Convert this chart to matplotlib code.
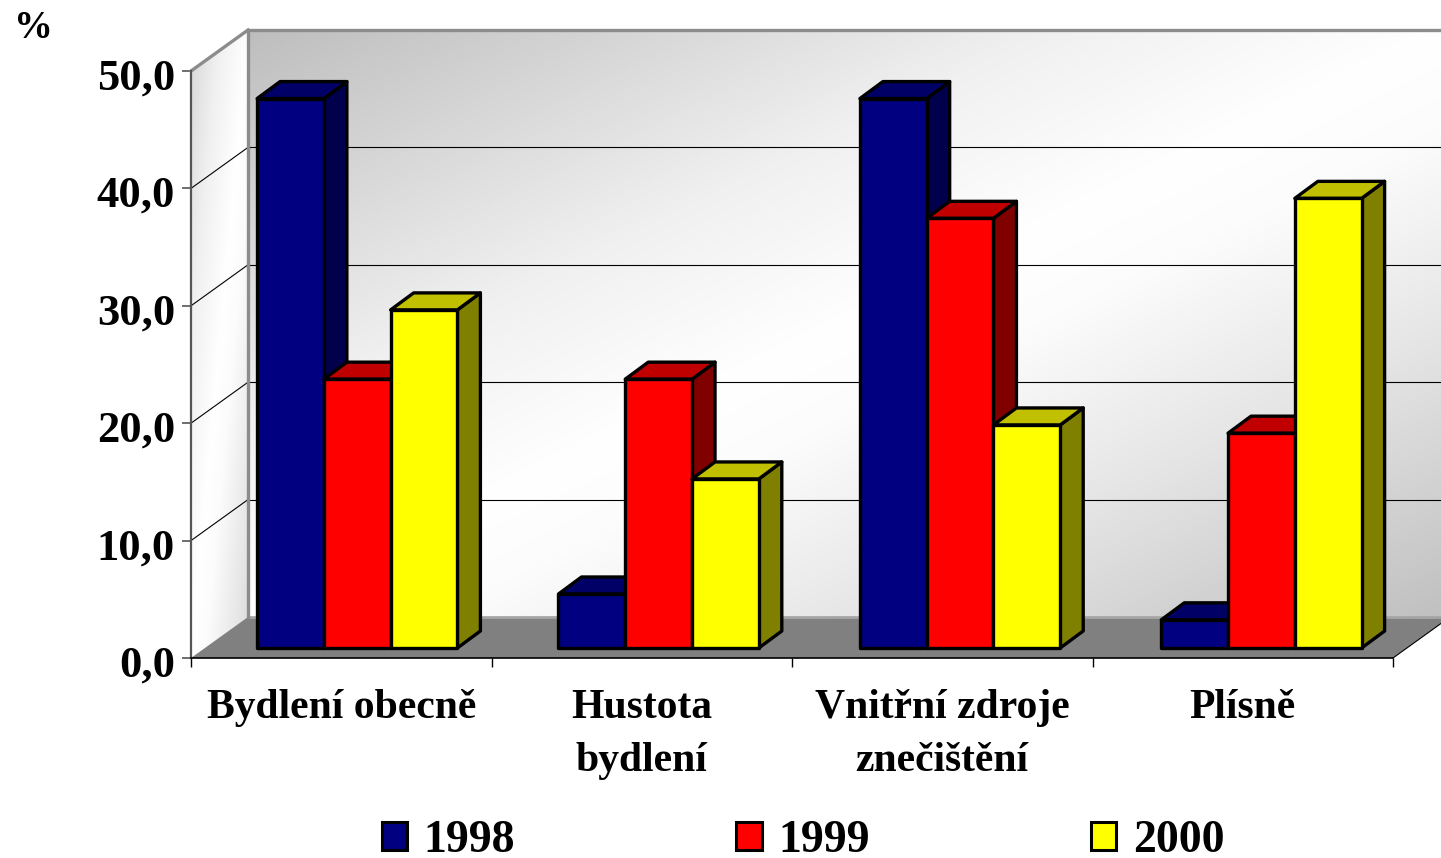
import numpy as np
import matplotlib
matplotlib.use('Agg')
import matplotlib.pyplot as plt
from matplotlib.colors import LinearSegmentedColormap
from matplotlib.patches import Polygon, Patch
from matplotlib.transforms import Affine2D, IdentityTransform

plt.rcParams['font.family'] = ['Liberation Serif', 'DejaVu Serif']
plt.rcParams['font.weight'] = 'bold'

# Data
categories = ['Bydlení obecně', 'Hustota\nbydlení', 'Vnitřní zdroje\nznečištění', 'Plísně']
years = ['1998', '1999', '2000']
v1998 = [46.8, 4.6, 46.8, 2.4]
v1999 = [22.9, 22.9, 36.6, 18.3]
v2000 = [28.8, 14.4, 19.0, 38.3]
yticks = [0, 10, 20, 30, 40, 50]

series = [v1998, v1999, v2000]
front_col = ['#000080', '#ff0000', '#ffff00']
top_col = ['#000066', '#c00000', '#c0c000']
side_col = ['#00004d', '#800000', '#808000']

W, H = 1441, 858
fig = plt.figure(figsize=(W / 100, H / 100), dpi=100, facecolor='white')
ax = fig.add_axes([191 / W, 1 - 658 / H, (1393 - 191) / W, (658 - 71) / H])
ax.set_xlim(0, 4)
ax.set_ylim(0, 50)
ax.patch.set_visible(False)

# depth of the whole chart and of one bar, in pixels
wall_dx, wall_dy = 57, 41
bar_off = (16, 10)
bar_dx, bar_dy = 23, 17


def to_px(x, y, dx=0, dy=0):
    p = ax.transData.transform((x, y))
    return (p[0] + dx, p[1] + dy)


def poly(pts, z, **kw):
    p = Polygon(pts, closed=True, transform=IdentityTransform(), zorder=z, clip_on=False, **kw)
    ax.add_patch(p)
    return p


# back wall gradient, grey corners with a white diagonal
wall_tr = Affine2D().translate(wall_dx, wall_dy)
gx, gy = np.meshgrid(np.linspace(0, 1, 300), np.linspace(0, 1, 200))
wall_cmap = LinearSegmentedColormap.from_list(
    'wall', [(0, '#bebebe'), (0.33, '#f0f0f0'), (0.5, '#ffffff'), (0.58, '#fcfcfc'),
             (0.75, '#e6e6e6'), (1, '#c0c0c0')])
ax.imshow(gx + gy, extent=(0, 4, 0, 50), origin='upper', aspect='auto', cmap=wall_cmap,
          vmin=0, vmax=2, transform=ax.transData + wall_tr, zorder=1, clip_on=False)

# left wall uses the same gradient, a bit softer
side_im = ax.imshow(gx + gy, extent=(0, 0.19, 0, 53.6), origin='upper', aspect='auto',
                    cmap=wall_cmap, vmin=-0.5, vmax=2.5, zorder=1)
side_pts = [to_px(0, 0), to_px(0, 50), to_px(0, 50, wall_dx, wall_dy), to_px(0, 0, wall_dx, wall_dy)]
side_im.set_clip_box(fig.bbox)
side_im.set_clip_path(Polygon(side_pts, closed=True, transform=IdentityTransform()))
ax.set_xlim(0, 4)
ax.set_ylim(0, 50)

# floor
poly([to_px(0, 0), to_px(4, 0), to_px(4, 0, wall_dx, wall_dy), to_px(0, 0, wall_dx, wall_dy)], 2,
     facecolor='#808080', edgecolor='none')

# wall border
ax.plot([0, 0, 4], [0, 50, 50], color='#8c8c8c', lw=2.4, transform=ax.transData + wall_tr,
        zorder=3, clip_on=False)
ax.plot([0, 4], [0, 0], color='#a6a6a6', lw=2.0, transform=ax.transData + wall_tr, zorder=2.5, clip_on=False)
ax.plot(*zip(to_px(0, 50), to_px(0, 50, wall_dx, wall_dy)), color='#8c8c8c', lw=2.4,
        transform=IdentityTransform(), zorder=3, clip_on=False)

# gridlines
for t in yticks[1:-1]:
    ax.plot([0, 4], [t, t], color='black', lw=0.8, transform=ax.transData + wall_tr, zorder=2, clip_on=False)
    ax.plot(*zip(to_px(0, t), to_px(0, t, wall_dx, wall_dy)), color='black', lw=0.8,
            transform=IdentityTransform(), zorder=2, clip_on=False)
ax.plot(*zip(to_px(4, 0), to_px(4, 0, wall_dx, wall_dy)), color='black', lw=0.8,
        transform=IdentityTransform(), zorder=2.6, clip_on=False)

# bars
bw = 0.2222
start = (1 - 3 * bw) / 2
group_step = 1.003
ox, oy = bar_off
z = 5
for i in range(len(categories)):
    for s in range(3):
        left = i * group_step + start + s * bw
        right = left + bw
        v = series[s][i]
        style = dict(edgecolor='black', lw=2.4, joinstyle='round')
        poly([to_px(right, 0, ox, oy), to_px(right, v, ox, oy),
              to_px(right, v, ox + bar_dx, oy + bar_dy), to_px(right, 0, ox + bar_dx, oy + bar_dy)],
             z, facecolor=side_col[s], **style)
        poly([to_px(left, v, ox, oy), to_px(right, v, ox, oy),
              to_px(right, v, ox + bar_dx, oy + bar_dy), to_px(left, v, ox + bar_dx, oy + bar_dy)],
             z + 0.1, facecolor=top_col[s], **style)
        poly([to_px(left, 0, ox, oy), to_px(right, 0, ox, oy),
              to_px(right, v, ox, oy), to_px(left, v, ox, oy)],
             z + 0.2, facecolor=front_col[s], **style)
        z += 1

# axes and labels
for name in ['top', 'right']:
    ax.spines[name].set_visible(False)
ax.spines['left'].set_color('#555555')
ax.spines['left'].set_linewidth(1.6)
ax.spines['bottom'].set_color('black')
ax.spines['bottom'].set_linewidth(1.2)
ax.spines['left'].set_zorder(3)
ax.spines['bottom'].set_zorder(3)

ax.set_yticks(yticks)
ax.set_yticklabels(['%d,0' % t for t in yticks], fontsize=32, fontweight='bold')
ax.tick_params(axis='y', length=6.5, width=1.2, color='#555555', pad=5)
for lab in ax.get_yticklabels():
    lab.set_transform(lab.get_transform() + Affine2D().translate(0, -3))
ax.set_xticks(range(5))
ax.set_xticklabels([])
ax.tick_params(axis='x', which='major', length=6.5, width=1, color='black')
ax.set_xticks(np.arange(4) + 0.5, minor=True)
ax.set_xticklabels(categories, minor=True, fontsize=30, fontweight='bold', linespacing=1.5)
ax.tick_params(axis='x', which='minor', length=0, pad=22.5)

fig.text(33 / W, 1 - 29 / H, '%', fontsize=28, fontweight='bold', ha='center', va='center')

handles = [Patch(facecolor=c, edgecolor='black', lw=2.2, label=y) for c, y in zip(front_col, years)]
fig.legend(handles=handles, ncol=3, frameon=False, loc='center', bbox_to_anchor=(803 / W, 1 - 841 / H),
           prop={'size': 33, 'weight': 'bold'}, handlelength=0.55, handleheight=0.55,
           handletextpad=0.36, columnspacing=4.83, borderpad=0, borderaxespad=0)

fig.savefig('out.png', dpi=100)
